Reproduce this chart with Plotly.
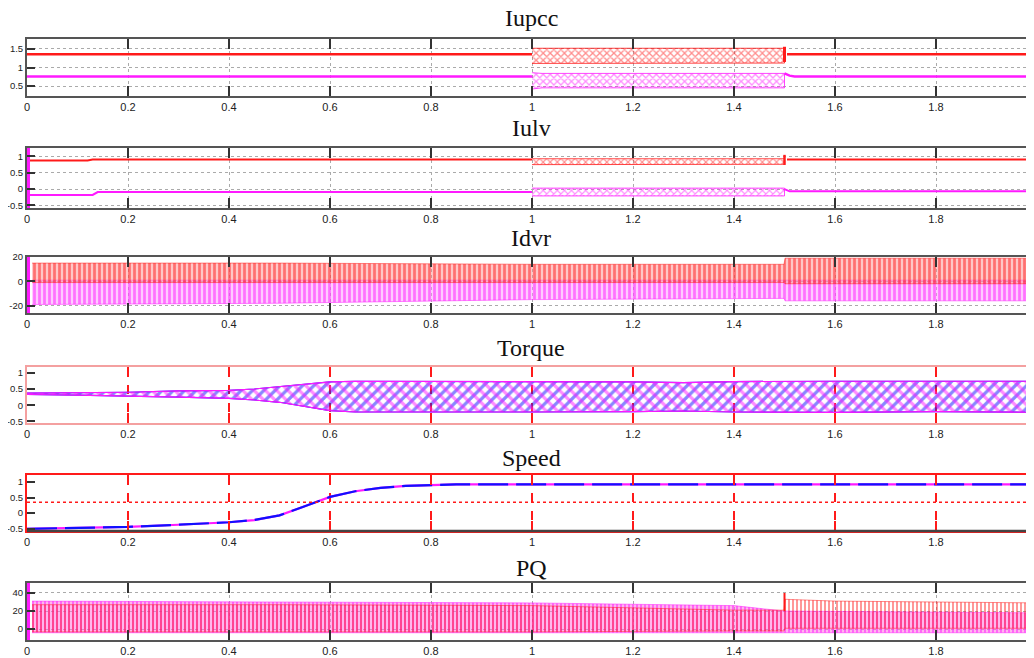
import plotly.graph_objects as go

# ---------------- data ----------------
t_ticks = [0, 0.2, 0.4, 0.6, 0.8, 1.0, 1.2, 1.4, 1.6, 1.8, 2.0]
t_tick_text = ["0", "0.2", "0.4", "0.6", "0.8", "1", "1.2", "1.4", "1.6", "1.8", "2"]
panel_titles = ["Iupcc", "Iulv", "Idvr", "Torque", "Speed", "PQ"]

# Iupcc (steady levels + oscillation envelope 1.0-1.5 s)
iupcc_red_t = [0, 1.0, None, 1.505, 2.0]
iupcc_red_v = [1.36, 1.36, None, 1.36, 1.36]
iupcc_red_env_t = [1.0, 1.2, 1.5]
iupcc_red_env_hi = [1.52, 1.52, 1.52]
iupcc_red_env_lo = [1.11, 1.12, 1.12]
iupcc_red_spike_t = [1.5, 1.5]
iupcc_red_spike_v = [1.15, 1.56]
iupcc_mag_t = [0, 1.0, None, 1.5, 1.51, 1.52, 2.0]
iupcc_mag_v = [0.76, 0.76, None, 0.84, 0.78, 0.76, 0.76]
iupcc_mag_env_t = [1.0, 1.02, 1.2, 1.5]
iupcc_mag_env_hi = [0.86, 0.84, 0.84, 0.84]
iupcc_mag_env_lo = [0.42, 0.45, 0.45, 0.45]

# Iulv
iulv_red_t = [0.004, 0.12, 0.13, 1.0, None, 1.505, 2.0]
iulv_red_v = [0.88, 0.88, 0.91, 0.91, None, 0.91, 0.91]
iulv_red_env_t = [1.0, 1.5]
iulv_red_env_hi = [0.93, 0.93]
iulv_red_env_lo = [0.75, 0.76]
iulv_red_spike_t = [1.5, 1.5]
iulv_red_spike_v = [0.74, 1.05]
iulv_mag_t = [0.004, 0.13, 0.14, 1.0, None, 1.5, 1.51, 2.0]
iulv_mag_v = [-0.18, -0.18, -0.09, -0.09, None, 0.0, -0.07, -0.07]
iulv_mag_env_t = [1.0, 1.5]
iulv_mag_env_hi = [0.03, 0.03]
iulv_mag_env_lo = [-0.21, -0.21]
iulv_start_t = [0.002, 0.002]
iulv_start_v = [-0.58, 1.26]

# Idvr (dense oscillation envelopes)
idvr_red_env_t = [0.01, 0.5, 1.0, 1.499, 1.501, 2.0]
idvr_red_env_hi = [15, 15, 14, 14, 19, 19]
idvr_red_env_lo = [-1, -1, -1, -1, -2, -2]
idvr_mag_env_t = [0.01, 0.5, 1.0, 1.499, 1.501, 2.0]
idvr_mag_env_hi = [1, 1, 1, 1, 1, 1]
idvr_mag_env_lo = [-19, -18, -15, -14, -16, -16]
idvr_start_t = [0.002, 0.002]
idvr_start_v = [-26, 20]

# Torque envelopes
torque_env_t = [0, 0.1, 0.2, 0.3, 0.4, 0.45, 0.5, 0.55, 0.6, 0.65, 0.8, 1.0,
                1.2, 1.3, 1.4, 1.6, 1.8, 2.0]
torque_env_hi = [0.37, 0.38, 0.40, 0.44, 0.46, 0.50, 0.58, 0.66, 0.72, 0.74,
                 0.74, 0.74, 0.72, 0.70, 0.73, 0.74, 0.73, 0.74]
torque_env_lo = [0.33, 0.31, 0.29, 0.25, 0.21, 0.16, 0.09, -0.04, -0.17,
                 -0.21, -0.22, -0.21, -0.20, -0.18, -0.21, -0.22, -0.20, -0.22]

# Speed
speed_t = [0, 0.1, 0.2, 0.3, 0.4, 0.45, 0.5, 0.55, 0.6, 0.65, 0.7, 0.75, 0.8,
           0.85, 0.9, 1.0, 2.0]
speed_v = [-0.5, -0.48, -0.44, -0.37, -0.29, -0.22, -0.07, 0.22, 0.52, 0.70,
           0.81, 0.87, 0.90, 0.92, 0.92, 0.92, 0.92]
speed_ref_level = 0.35

# PQ envelopes
pq_mag_env_t = [0.01, 0.5, 1.0, 1.4, 1.5, 2.0]
pq_mag_env_hi = [31, 30, 29, 26, 20, 18]
pq_mag_env_lo = [-4, -4, -4, -4, -4, -4]
pq_red_env_t = [0.01, 0.5, 1.0, 1.4, 1.499, 1.501, 1.6, 2.0]
pq_red_env_hi = [27, 27, 26, 21, 21, 33, 31, 29]
pq_red_env_lo = [-3, -3, -3, -2, -2, 1, 1, 1]
pq_red_spike_t = [1.5, 1.5]
pq_red_spike_v = [20, 40]
pq_start_t = [0.002, 0.002]
pq_start_v = [-12, 51]

# ---------------- layout geometry ----------------
W, H = 1034, 658
OFF = 8  # page body margin offset
boxes_px = [(39, 96), (148, 208), (257, 313), (367, 423), (475, 531), (583, 640)]
title_y_px = [18, 128, 238, 348, 458, 568]
y_ranges = [[0.23, 1.77], [-0.58, 1.26], [-26, 20], [-0.55, 1.18],
            [-0.57, 1.22], [-12, 51]]
y_ticks = [[0.5, 1, 1.5], [-0.5, 0, 0.5, 1], [-20, 0, 20], [-0.5, 0, 0.5, 1],
           [-0.5, 0, 0.5, 1], [0, 20, 40]]
y_tick_text = [["0.5", "1", "1.5"], ["-0.5", "0", "0.5", "1"], ["-20", "0", "20"],
               ["-0.5", "0", "0.5", "1"], ["-0.5", "0", "0.5", "1"], ["0", "20", "40"]]
x0_px = 27 - OFF
x_dom = [x0_px / W, 1.0]
x_range = [0, (W - x0_px) / 505.0]

RED = "#ff1a1a"
MAG = "#ff1aff"
BLUE = "#1010ff"

fig = go.Figure()


def ax(i):
    return ("x" if i == 0 else f"x{i+1}"), ("y" if i == 0 else f"y{i+1}")


def line(i, t, v, color, width=2, dash=None):
    xa, ya = ax(i)
    fig.add_trace(go.Scatter(x=t, y=v, xaxis=xa, yaxis=ya, mode="lines",
                             line=dict(color=color, width=width, dash=dash),
                             connectgaps=False, hoverinfo="skip", showlegend=False))


def band(i, t, hi, lo, color, shape, size, solidity, bg, lw=0.8):
    xa, ya = ax(i)
    xs = list(t) + list(t)[::-1]
    ys = list(hi) + list(lo)[::-1]
    fig.add_trace(go.Scatter(x=xs, y=ys, xaxis=xa, yaxis=ya, mode="lines",
                             fill="toself", fillcolor=bg,
                             line=dict(color=color, width=lw),
                             fillpattern=dict(shape=shape, fgcolor=color, bgcolor=bg,
                                              size=size, solidity=solidity),
                             hoverinfo="skip", showlegend=False))


CLEAR = "rgba(255,255,255,0)"

# Panel 1: Iupcc
line(0, iupcc_red_t, iupcc_red_v, RED, 2.5)
band(0, iupcc_red_env_t, iupcc_red_env_hi, iupcc_red_env_lo, RED, "x", 5, 0.45, CLEAR)
line(0, iupcc_red_spike_t, iupcc_red_spike_v, RED, 3)
line(0, iupcc_mag_t, iupcc_mag_v, MAG, 2.5)
band(0, iupcc_mag_env_t, iupcc_mag_env_hi, iupcc_mag_env_lo, MAG, "x", 5, 0.45, CLEAR)

# Panel 2: Iulv
line(1, iulv_red_t, iulv_red_v, RED, 2)
band(1, iulv_red_env_t, iulv_red_env_hi, iulv_red_env_lo, RED, "x", 5, 0.4, CLEAR)
line(1, iulv_red_spike_t, iulv_red_spike_v, RED, 2.5)
line(1, iulv_mag_t, iulv_mag_v, MAG, 2)
band(1, iulv_mag_env_t, iulv_mag_env_hi, iulv_mag_env_lo, MAG, "x", 5, 0.4, CLEAR)
line(1, iulv_start_t, iulv_start_v, MAG, 4)

# Panel 3: Idvr
band(2, idvr_mag_env_t, idvr_mag_env_hi, idvr_mag_env_lo, MAG, "|", 5, 0.55, "rgba(255,140,255,0.45)", 0.5)
band(2, idvr_red_env_t, idvr_red_env_hi, idvr_red_env_lo, RED, "|", 5, 0.55, "rgba(255,130,130,0.45)", 0.5)
line(2, idvr_start_t, idvr_start_v, MAG, 4)

# Panel 4: Torque
band(3, torque_env_t, torque_env_hi, torque_env_lo, BLUE, "/", 8, 0.4, CLEAR, 1.2)
band(3, torque_env_t, torque_env_hi, torque_env_lo, MAG, "\\", 8, 0.4, CLEAR, 1.2)

# Panel 5: Speed
line(4, speed_t, speed_v, MAG, 2.2)
line(4, speed_t, speed_v, BLUE, 2.2, "30px,8px")

# Panel 6: PQ
band(5, pq_mag_env_t, pq_mag_env_hi, pq_mag_env_lo, MAG, "|", 4, 0.5, "rgba(255,110,220,0.5)", 0.5)
band(5, pq_red_env_t, pq_red_env_hi, pq_red_env_lo, RED, "|", 4, 0.45, CLEAR, 0.5)
line(5, pq_red_spike_t, pq_red_spike_v, RED, 2)
line(5, pq_start_t, pq_start_v, MAG, 4)

layout = dict(width=W, height=H, margin=dict(l=0, r=0, t=0, b=0, autoexpand=False),
              paper_bgcolor="white", plot_bgcolor="white", showlegend=False,
              font=dict(family="Liberation Sans Narrow, Liberation Sans, Arial, sans-serif",
                        size=10, color="#222"))

for i in range(6):
    top, bot = boxes_px[i]
    ydom = [1 - (bot - OFF) / H, 1 - (top - OFF) / H]
    red_style = i in (3, 4)
    xkey = "xaxis" if i == 0 else f"xaxis{i+1}"
    ykey = "yaxis" if i == 0 else f"yaxis{i+1}"
    yname = "y" if i == 0 else f"y{i+1}"
    xname = "x" if i == 0 else f"x{i+1}"
    layout[xkey] = dict(
        domain=x_dom, range=x_range, anchor=yname, automargin=False,
        tickmode="array", tickvals=t_ticks, ticktext=t_tick_text,
        ticks="inside", ticklen=10, tickwidth=2,
        tickcolor=RED if red_style else "#333",
        showline=True, mirror="ticks", linewidth=2,
        linecolor="#f4a0a0" if i == 3 else (RED if i == 4 else "#555"),
        showgrid=True,
        gridcolor=RED if red_style else "#aaa",
        griddash="dash" if red_style else "dot",
        gridwidth=2 if red_style else 1,
        zeroline=False, fixedrange=True,
        tickfont=dict(size=11, color="#222"),
    )
    layout[ykey] = dict(
        domain=ydom, range=y_ranges[i], anchor=xname, automargin=False,
        tickmode="array", tickvals=y_ticks[i], ticktext=y_tick_text[i],
        ticks="inside", ticklen=8, tickwidth=2, tickcolor="#333",
        ticklabelstandoff=0,
        showline=True, mirror="ticks", linewidth=2,
        linecolor="#f4a0a0" if i == 3 else (RED if i == 4 else "#555"),
        showgrid=not red_style, gridcolor="#aaa", griddash="dot", gridwidth=1,
        zeroline=False, fixedrange=True,
        tickfont=dict(size=9.5, color="#222"),
    )

annotations = []
for i, title in enumerate(panel_titles):
    annotations.append(dict(text=title, xref="paper", yref="paper",
                            x=(531 - OFF) / W, y=1 - (title_y_px[i] - OFF) / H,
                            xanchor="center", yanchor="middle", showarrow=False,
                            font=dict(family="Liberation Serif, Times New Roman, serif",
                                      size=24, color="#111")))
layout["annotations"] = annotations

shapes = [
    # Speed panel: dark bottom border and red dotted reference line
    dict(type="line", xref="x5 domain", yref="y5 domain", x0=0, x1=1, y0=0, y1=0,
         line=dict(color="#444", width=2.5)),
    dict(type="line", xref="x5 domain", yref="y5", x0=0, x1=1,
         y0=speed_ref_level, y1=speed_ref_level,
         line=dict(color=RED, width=1.5, dash="dot")),
]
layout["shapes"] = shapes

fig.update_layout(**layout)
fig.write_html("out.html")
